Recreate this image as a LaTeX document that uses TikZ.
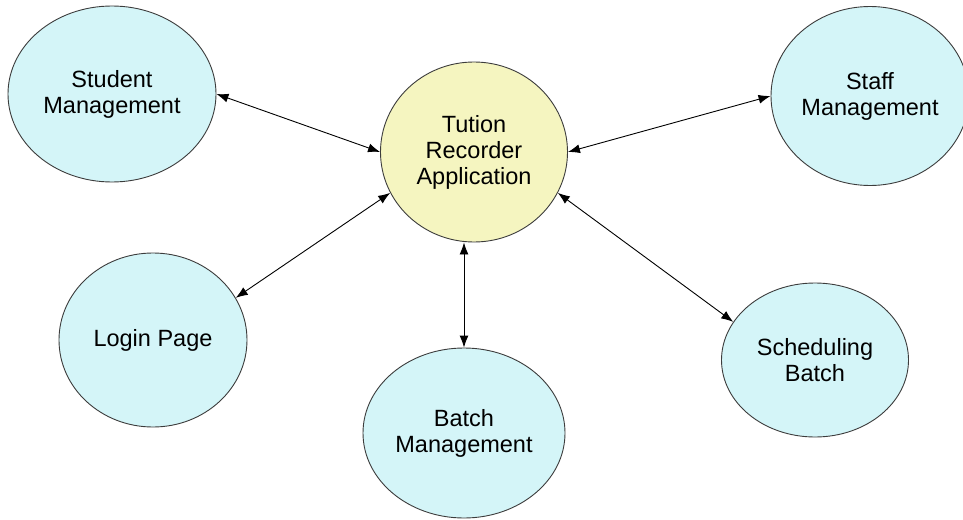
\documentclass[tikz,border=0pt]{standalone}
\usepackage{fontspec}
\setmainfont{Liberation Sans}
\usetikzlibrary{shapes.geometric,arrows.meta}
\definecolor{cyanfill}{RGB}{212,245,248}
\definecolor{yelfill}{RGB}{245,245,192}
\definecolor{edgegray}{RGB}{60,60,60}
\tikzset{
  bubble/.style={ellipse,draw=edgegray,line width=0.9pt,inner sep=0pt,align=center,
    font=\fontsize{23.5}{26}\selectfont},
  sub/.style={bubble,fill=cyanfill},
  hub/.style={bubble,fill=yelfill},
  link/.style={line width=0.9pt,{Latex[length=12pt,width=9pt]}-{Latex[length=12pt,width=9pt]}}
}
\begin{document}
\begin{tikzpicture}[x=1pt,y=-1pt]
\useasboundingbox (0,0) rectangle (963,519);
\fill[white] (0,0) rectangle (963,519);
\node[hub, minimum width=187pt, minimum height=180pt] (app) at (474,152) {Tution\\Recorder\\Application};
\node[sub, minimum width=208pt, minimum height=176pt] (student) at (112,94) {Student\\Management};
\node[sub, minimum width=198pt, minimum height=179pt] (staff) at (870,96) {Staff\\Management};
\node[sub, minimum width=188pt, minimum height=174pt] (login) at (153,340) {Login Page};
\node[sub, minimum width=202pt, minimum height=170pt] (batch) at (464,433) {Batch\\Management};
\node[sub, minimum width=187pt, minimum height=154pt] (sched) at (815,360) {Scheduling\\Batch};
\coordinate (appbot) at (app.south -| batch.north);
\draw[link] (student.east) -- (app.west);
\draw[link] (staff.west) -- (app.east);
\draw[link] (login.27) -- (app.206);
\draw[link] (batch.north) -- (appbot);
\draw[link] (sched.155) -- (app.334);
\end{tikzpicture}
\end{document}
